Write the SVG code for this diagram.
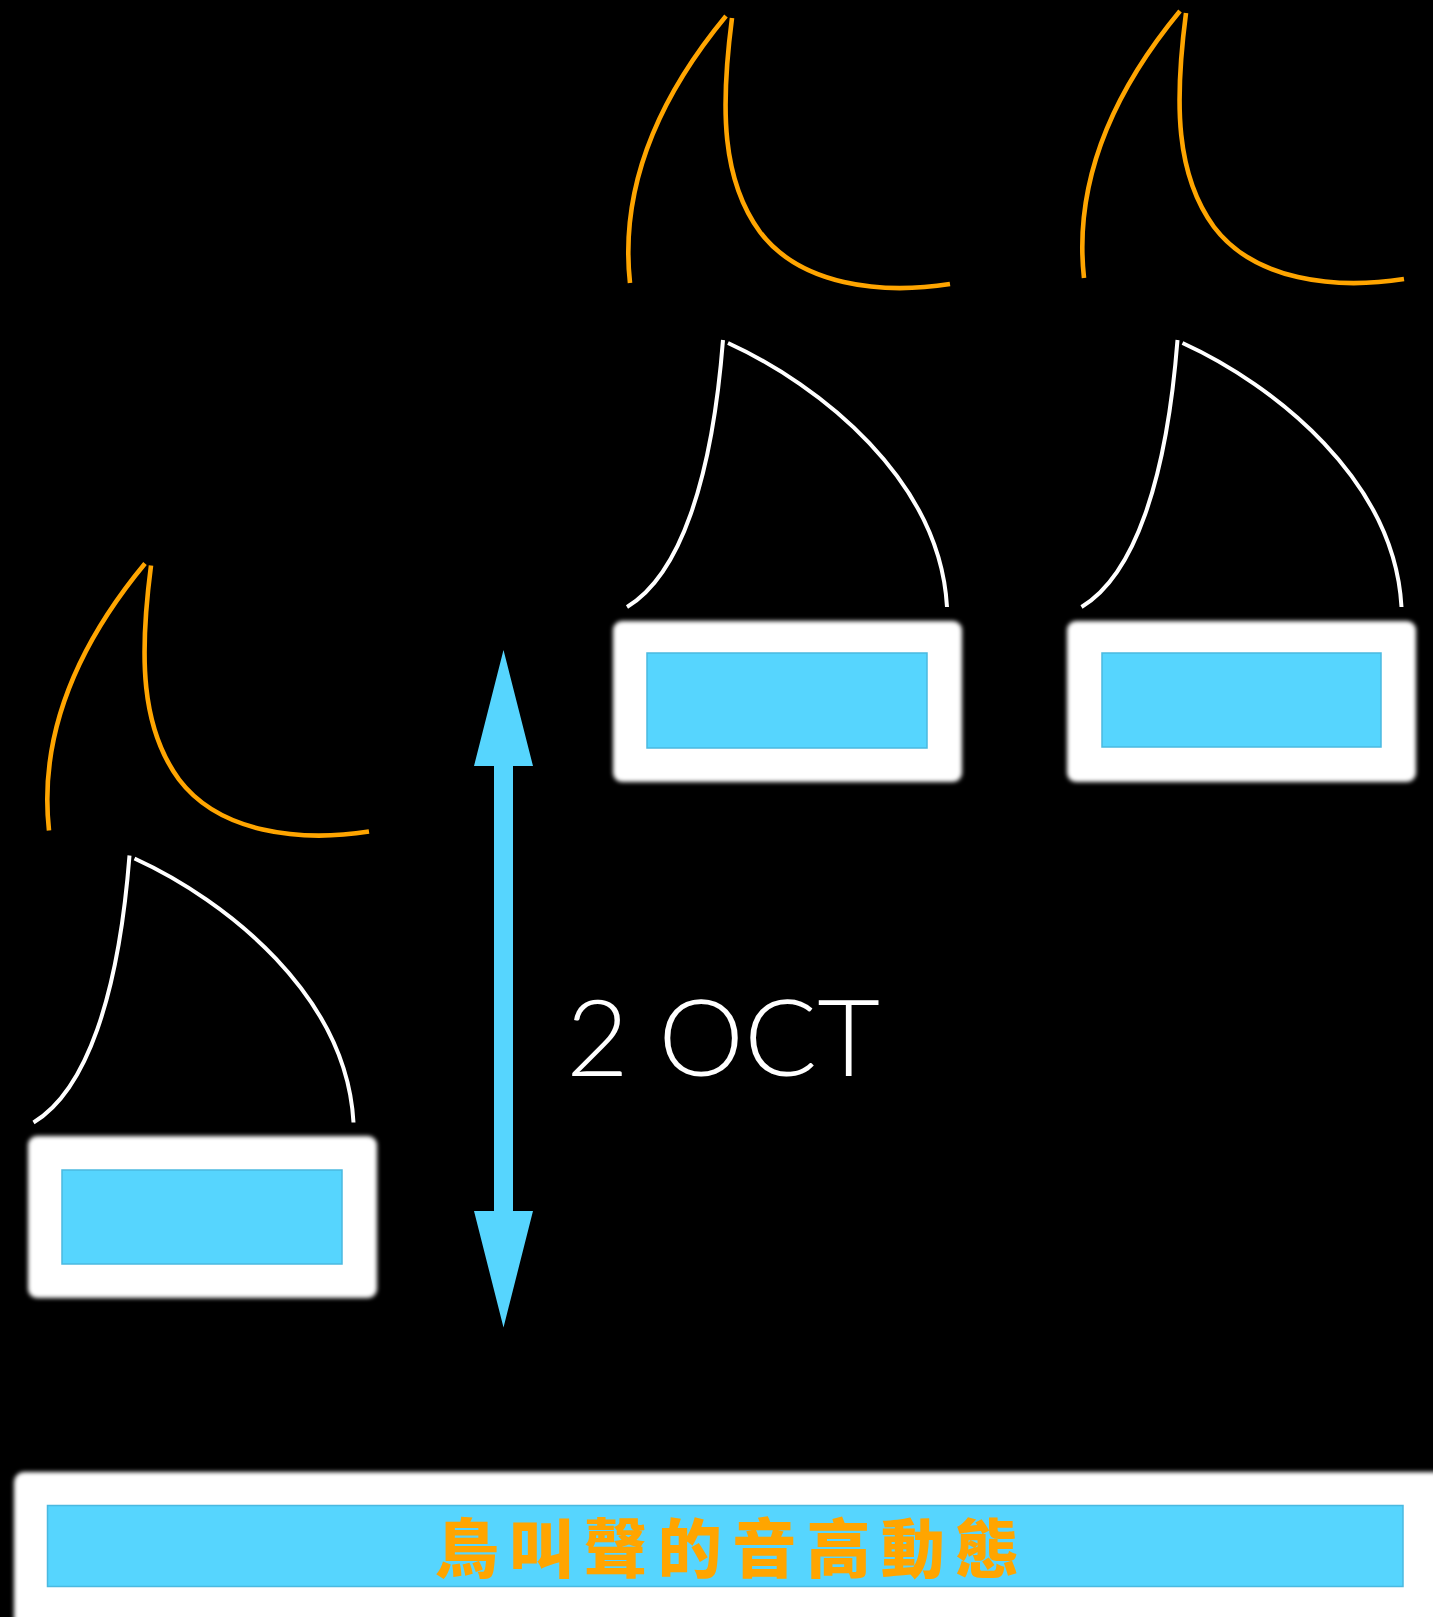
<svg xmlns="http://www.w3.org/2000/svg" xmlns:xlink="http://www.w3.org/1999/xlink" width="1433" height="1617" viewBox="0 0 1433 1617">
<style>
.orange{fill:none;stroke:#FFA500;stroke-width:4.6;stroke-linecap:butt}
.white{fill:none;stroke:#FFFFFF;stroke-width:4;stroke-linecap:butt}
.outer{fill:#FFFFFF;filter:url(#soft)}
.inner{fill:#56D5FE;stroke:#4BB9E0;stroke-width:1.5}
.arrow{fill:#56D5FE}
.label{fill:#FFFFFF;font-family:Lato,"Liberation Sans",sans-serif;font-weight:300;font-size:107px}
.title{fill:#FFA500;font-family:"Noto Sans CJK TC","Noto Sans CJK SC",sans-serif;font-weight:900;font-size:64px}
</style>
<defs>
<filter id="soft" x="-5%" y="-10%" width="110%" height="120%">
<feGaussianBlur stdDeviation="2.2"/>
</filter>
<g id="orangeShape">
<path class="orange" d="M630,283 C622,210 640,120 726,16"/>
<path class="orange" d="M732,18 C720,110 722,180 760,232 C800,285 880,295 950,284"/>
</g>
<g id="whiteShape">
<path class="white" d="M627,607 C680,575 712,480 723,340"/>
<path class="white" d="M728,343 C820,385 940,480 947,607"/>
</g>
</defs>
<rect x="0" y="0" width="1433" height="1617" fill="#000000"/>

<g id="group-left">
<use xlink:href="#orangeShape" href="#orangeShape" transform="translate(-581,547.5)"/>
<use xlink:href="#whiteShape" href="#whiteShape" transform="translate(-593.5,515.5)"/>
<g id="box-left">
<rect class="outer" x="28" y="1136" width="349" height="162" rx="9"/>
<rect class="inner" x="62" y="1170" width="280" height="94"/>
</g>
</g>

<g id="group-mid">
<use xlink:href="#orangeShape" href="#orangeShape"/>
<use xlink:href="#whiteShape" href="#whiteShape"/>
<g id="box-mid">
<rect class="outer" x="613" y="621" width="349" height="161" rx="9"/>
<rect class="inner" x="647" y="653" width="280" height="95"/>
</g>
</g>

<g id="group-right">
<use xlink:href="#orangeShape" href="#orangeShape" transform="translate(454,-5)"/>
<use xlink:href="#whiteShape" href="#whiteShape" transform="translate(454.5,0)"/>
<g id="box-right">
<rect class="outer" x="1067" y="621" width="349" height="161" rx="9"/>
<rect class="inner" x="1102" y="653" width="279" height="94"/>
</g>
</g>

<g id="connectors">
<polygon class="arrow" points="503.5,650 533,766 513,766 513,1211 533,1211 503.5,1327.5 474,1211 494,1211 494,766 474,766"/>
</g>

<g id="label-oct">
<text class="label" x="566" y="1076" textLength="314" lengthAdjust="spacingAndGlyphs">2 OCT</text>
</g>

<g id="banner">
<rect class="outer" x="14" y="1472" width="1440" height="170" rx="10"/>
<rect class="inner" x="47.5" y="1505.5" width="1355.5" height="81"/>
<text class="title" x="435" y="1572" textLength="584" lengthAdjust="spacing">鳥叫聲的音高動態</text>
</g>
</svg>
